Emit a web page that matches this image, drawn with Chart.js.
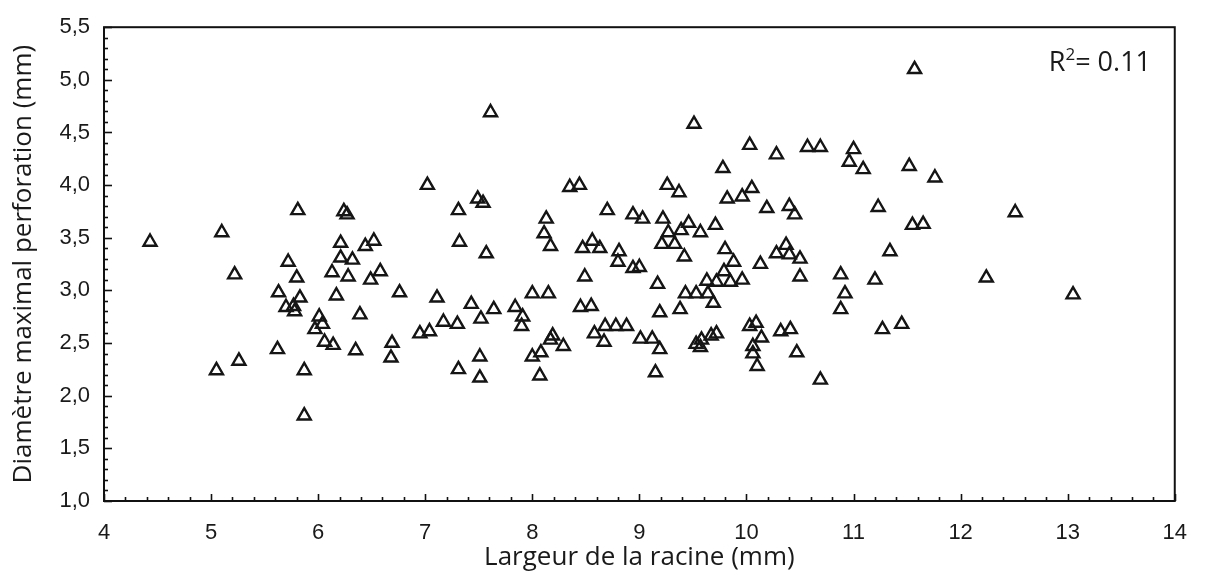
<!DOCTYPE html>
<html>
<head>
<meta charset="utf-8">
<script src="https://cdn.jsdelivr.net/npm/chart.js@4/dist/chart.umd.min.js"></script>
<style>
  body { margin: 0; background: #fff; }
</style>
</head>
<body>
<canvas id="chart" width="1206" height="580"></canvas>
<script>
// Largeur de la racine (mm)
const rootWidth = [
  4.43, 5.10, 5.81, 6.24, 6.27, 6.21, 6.44, 6.52, 5.72, 6.21,
  6.32, 5.22, 6.13, 6.28, 5.80, 6.49, 5.63, 5.83, 5.70, 5.77,
  5.78, 6.17, 6.01, 6.04, 5.97, 6.39, 6.06, 6.14, 6.35, 5.62,
  5.26, 5.05, 5.87, 5.87, 7.61, 7.02, 7.49, 7.54, 7.31, 8.35,
  8.44, 8.13, 8.11, 8.17, 8.70, 8.94, 9.03, 7.32, 7.57, 6.58,
  8.47, 8.56, 8.63, 8.81, 8.80, 8.94, 9.00, 8.49, 11.57, 9.51,
  10.03, 10.28, 10.57, 10.69, 11.00, 10.96, 11.09, 11.52, 11.76, 9.78,
  9.26, 9.37, 9.82, 9.96, 10.05, 10.19, 10.40, 10.45, 11.23, 9.22,
  9.27, 9.39, 9.46, 9.57, 9.71, 9.21, 9.33, 9.42, 9.80, 9.88,
  10.13, 10.28, 10.37, 10.40, 10.50, 11.34, 11.55, 11.65, 9.17, 9.63,
  9.72, 9.79, 9.85, 9.96, 10.50, 10.88, 11.20, 12.51, 12.24, 13.05,
  6.76, 7.11, 7.43, 7.52, 7.64, 7.84, 7.91, 7.90, 8.00, 8.15,
  8.45, 8.55, 7.17, 7.30, 6.95, 7.04, 6.69, 6.68, 7.31, 7.51,
  7.51, 8.00, 8.08, 8.07, 8.17, 8.19, 8.29, 8.58, 8.67, 8.68,
  8.78, 8.88, 9.01, 9.43, 9.53, 9.64, 9.69, 9.38, 9.19, 9.12,
  9.19, 9.15, 9.53, 9.57, 9.58, 9.67, 9.72, 10.03, 10.09, 10.14,
  10.06, 10.06, 10.10, 10.32, 10.41, 10.47, 10.69, 10.92, 10.88, 11.27,
  11.45
];
// Diamètre maximal perforation (mm)
const perfDiameter = [
  3.46, 3.55, 3.76, 3.75, 3.72, 3.45, 3.42, 3.47, 3.27, 3.31,
  3.29, 3.15, 3.17, 3.13, 3.12, 3.10, 2.98, 2.93, 2.84, 2.85,
  2.80, 2.95, 2.75, 2.68, 2.63, 2.77, 2.51, 2.48, 2.43, 2.44,
  2.33, 2.24, 2.24, 1.81, 4.69, 4.00, 3.87, 3.83, 3.76, 3.98,
  4.00, 3.68, 3.54, 3.42, 3.76, 3.72, 3.68, 3.46, 3.35, 3.18,
  3.40, 3.47, 3.40, 3.37, 3.27, 3.21, 3.22, 3.13, 5.10, 4.58,
  4.38, 4.29, 4.36, 4.36, 4.34, 4.22, 4.15, 4.18, 4.07, 4.16,
  4.00, 3.93, 3.87, 3.89, 3.97, 3.78, 3.80, 3.72, 3.79, 3.68,
  3.55, 3.57, 3.64, 3.55, 3.62, 3.44, 3.44, 3.32, 3.39, 3.27,
  3.25, 3.35, 3.43, 3.34, 3.30, 3.37, 3.62, 3.63, 3.06, 3.09,
  3.08, 3.18, 3.08, 3.10, 3.13, 3.15, 3.10, 3.74, 3.12, 2.96,
  2.98, 2.93, 2.87, 2.73, 2.82, 2.84, 2.75, 2.66, 2.97, 2.97,
  2.84, 2.85, 2.70, 2.68, 2.59, 2.61, 2.50, 2.36, 2.25, 2.37,
  2.17, 2.37, 2.41, 2.19, 2.53, 2.57, 2.47, 2.59, 2.51, 2.66,
  2.66, 2.66, 2.54, 2.97, 2.97, 2.97, 2.88, 2.82, 2.79, 2.54,
  2.44, 2.22, 2.49, 2.46, 2.53, 2.57, 2.59, 2.66, 2.69, 2.55,
  2.47, 2.40, 2.28, 2.61, 2.63, 2.41, 2.15, 2.97, 2.82, 2.63,
  2.68
];
const xTicks = [4, 5, 6, 7, 8, 9, 10, 11, 12, 13, 14];
const yTicks = [1.0, 1.5, 2.0, 2.5, 3.0, 3.5, 4.0, 4.5, 5.0, 5.5];
const r2Label = '0.11';

const points = rootWidth.map((x, i) => ({ x: x, y: perfDiameter[i] }));

// frame, inward ticks and the R² note
const framePlugin = {
  id: 'frame',
  afterDraw(chart) {
    const ctx = chart.ctx;
    const a = chart.chartArea;
    const xs = chart.scales.x;
    const ys = chart.scales.y;
    ctx.save();
    ctx.strokeStyle = '#111';
    ctx.lineWidth = 1.6;
    // minor + major ticks on x
    for (let v = 4; v <= 14.001; v += 0.2) {
      const px = Math.round(xs.getPixelForValue(v)) + 0.5;
      const major = Math.abs(v - Math.round(v)) < 0.01;
      ctx.beginPath();
      ctx.moveTo(px, a.bottom);
      ctx.lineTo(px, a.bottom - (major ? 7 : 4));
      ctx.stroke();
    }
    // minor + major ticks on y
    for (let v = 1; v <= 5.501; v += 0.1) {
      const py = Math.round(ys.getPixelForValue(v)) + 0.5;
      const major = Math.abs(v * 2 - Math.round(v * 2)) < 0.01;
      ctx.beginPath();
      ctx.moveTo(a.left, py);
      ctx.lineTo(a.left + (major ? 8 : 4), py);
      ctx.stroke();
    }
    ctx.lineWidth = 2;
    ctx.strokeRect(a.left, a.top, a.right - a.left, a.bottom - a.top);

    // R² = 0.11
    ctx.fillStyle = '#1a1a1a';
    ctx.textBaseline = 'alphabetic';
    ctx.textAlign = 'left';
    let tx = a.right - 126;
    const ty = a.top + 44;
    ctx.font = '27px "Open Sans"';
    ctx.fillText('R', tx, ty);
    tx += ctx.measureText('R').width;
    ctx.font = '17px "Open Sans"';
    ctx.fillText('2', tx, ty - 11);
    tx += ctx.measureText('2').width;
    ctx.font = '27px "Open Sans"';
    ctx.fillText('= ' + r2Label, tx, ty);
    ctx.restore();
  }
};

const myChartRef = document.getElementById('chart');
const myChart = new Chart(myChartRef, {
  type: 'scatter',
  data: {
    datasets: [{
      label: 'perforation',
      data: points,
      pointStyle: 'triangle',
      pointRadius: 7.5,
      pointHoverRadius: 7.5,
      borderColor: '#151515',
      backgroundColor: 'rgba(0,0,0,0)',
      borderWidth: 2.4
    }]
  },
  options: {
    responsive: false,
    animation: false,
    layout: { padding: { top: 19, right: 27, left: 0, bottom: 0 } },
    plugins: {
      legend: { display: false },
      tooltip: { enabled: false }
    },
    scales: {
      x: {
        type: 'linear',
        min: 4,
        max: 14,
        afterBuildTicks: (s) => { s.ticks = xTicks.map(v => ({ value: v })); },
        afterFit: (s) => { s.height = 79; },
        grid: { display: false, drawTicks: false },
        border: { display: false },
        ticks: {
          color: '#1a1a1a',
          font: { family: '"Liberation Sans", Arial', size: 22 },
          padding: 19
        },
        title: {
          display: true,
          text: 'Largeur de la racine (mm)',
          color: '#1a1a1a',
          font: { family: '"Open Sans"', size: 26 },
          padding: { top: 0, bottom: 7 }
        }
      },
      y: {
        type: 'linear',
        min: 1,
        max: 5.5,
        afterBuildTicks: (s) => { s.ticks = yTicks.map(v => ({ value: v })); },
        afterFit: (s) => { s.width = 104; },
        grid: { display: false, drawTicks: false },
        border: { display: false },
        ticks: {
          color: '#1a1a1a',
          font: { family: '"Liberation Sans", Arial', size: 22 },
          padding: 14,
          callback: (v) => v.toFixed(1).replace('.', ',')
        },
        title: {
          display: true,
          text: 'Diamètre maximal perforation (mm)',
          color: '#1a1a1a',
          font: { family: '"Open Sans"', size: 26 },
          padding: { top: 8, bottom: 0 }
        }
      }
    }
  },
  plugins: [framePlugin]
});
</script>
</body>
</html>
